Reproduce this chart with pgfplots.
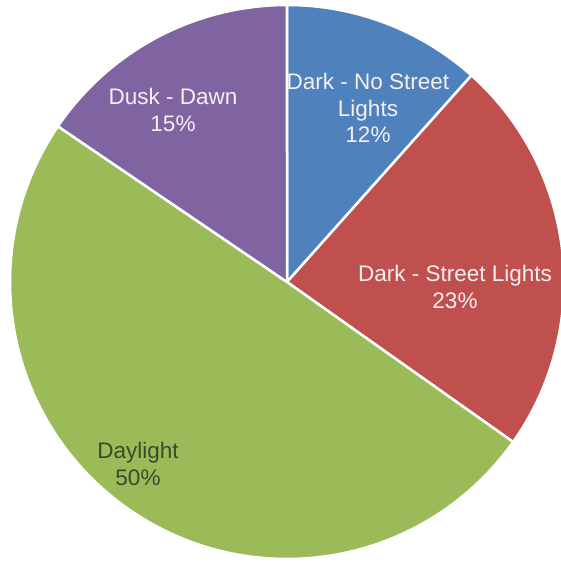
\documentclass[border=0pt]{standalone}
\usepackage{pgfplots}
\pgfplotsset{compat=1.18}
\usepackage{fontspec}
\setmainfont{Liberation Sans}
\definecolor{cBlue}{HTML}{4F81BD}
\definecolor{cRed}{HTML}{C0504D}
\definecolor{cGreen}{HTML}{9BBB59}
\definecolor{cPurple}{HTML}{8064A2}
\definecolor{cText}{HTML}{F4F0F0}
\definecolor{cDark}{HTML}{3A4A2A}
% shares (percent)
\def\vA{11.6}\def\vB{23.2}\def\vC{49.7}\def\vD{15.5}
\pgfmathsetmacro{\aA}{90}
\pgfmathsetmacro{\aB}{\aA-3.6*\vA}
\pgfmathsetmacro{\aC}{\aB-3.6*\vB}
\pgfmathsetmacro{\aD}{\aC-3.6*\vC}
\pgfmathsetmacro{\aE}{\aD-3.6*\vD}
\def\cx{287}\def\cy{280}\def\R{277}
\begin{document}
\begin{tikzpicture}
\begin{axis}[
  name=ax,
  width=561pt, height=562pt, scale only axis,
  xmin=0, xmax=561, ymin=0, ymax=562,
  hide axis, clip=true,
  every axis plot/.append style={draw=white, line width=2.5pt, line join=round, samples=90, variable=\t},
]
\addplot[fill=cBlue, domain=\aA:\aB] ({\cx+\R*cos(\t)},{\cy+\R*sin(\t)}) -- (axis cs:\cx,\cy) -- cycle;
\addplot[fill=cRed, domain=\aB:\aC] ({\cx+\R*cos(\t)},{\cy+\R*sin(\t)}) -- (axis cs:\cx,\cy) -- cycle;
\addplot[fill=cGreen, domain=\aC:\aD] ({\cx+\R*cos(\t)},{\cy+\R*sin(\t)}) -- (axis cs:\cx,\cy) -- cycle;
\addplot[fill=cPurple, domain=\aD:\aE] ({\cx+\R*cos(\t)},{\cy+\R*sin(\t)}) -- (axis cs:\cx,\cy) -- cycle;
\begin{scope}[every node/.style={align=center, font=\fontsize{22.5}{26.5}\selectfont, inner sep=0pt}]
\node[text=cText] at (axis cs:368,454) {Dark - No Street\\Lights\\12\%};
\node[text=cText] at (axis cs:455,275) {Dark - Street Lights\\23\%};
\node[text=cDark] at (axis cs:138,98) {Daylight\\50\%};
\node[text=cText] at (axis cs:173,452) {Dusk - Dawn\\15\%};
\end{scope}
\end{axis}
\pgfresetboundingbox
\path (ax.south west) rectangle (ax.north east);
\end{tikzpicture}
\end{document}
